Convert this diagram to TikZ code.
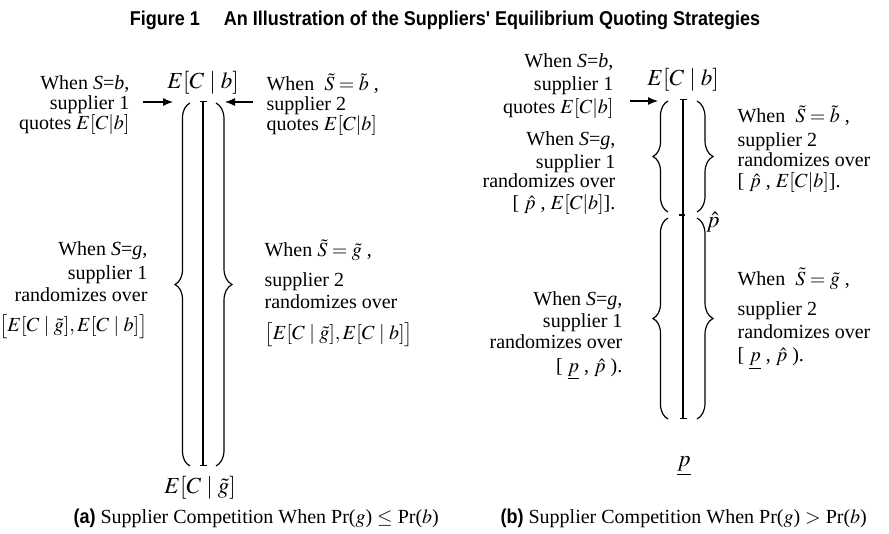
\documentclass[tikz,border=0pt]{standalone}
\usepackage{mathptmx}
\usepackage{fontspec}
\setmainfont{Liberation Serif}
\newfontfamily\titlefont[FakeStretch=0.9]{Liberation Sans}
\newfontfamily\capfont[FakeStretch=0.9]{Liberation Sans}
\usetikzlibrary{arrows.meta,decorations.pathreplacing}

\begin{document}
\begin{tikzpicture}[x=0.5pt,y=-0.5pt,>={Latex[length=5pt,width=4pt]},line width=0.6pt,every node/.style={inner sep=0pt},txtl/.style={align=right,anchor=base east,font=\fontsize{10}{11}\selectfont},txtr/.style={align=left,anchor=base west,font=\fontsize{10}{11}\selectfont},lbl/.style={font=\fontsize{11.5}{12}\selectfont},brc/.style={decorate,decoration={brace,amplitude=#1}},tk/.style={{Bar[width=3.5pt]}-{Bar[width=3.5pt]}}]
\useasboundingbox (0,0) rectangle (889,534);
\node (ttl) at (445,20) {\titlefont\bfseries\fontsize{10}{12}\selectfont Figure 1\hspace{1.2em}An Illustration of the Suppliers' Equilibrium Quoting Strategies};
% panel (a)
\node[lbl] (atop) at (203,83) {$E[C\mid b]$};
\node[lbl] (abot) at (200,488) {$E[C\mid\tilde g]$};
\coordinate (al1) at (203,101); \coordinate (al2) at (203,466);
\draw[tk] (al1) -- (al2);
\draw[brc=7.5pt] (190,466) -- (190,103);
\draw[brc=8pt] (216,103) -- (216,466);
\node[txtl] (aq1) at (130,130) {When \textit{S}=\textit{b},\\[-1pt] supplier 1\\[-1pt] quotes $E[C|b]$};
\node[txtr] (aq2) at (266,131) {When \ $\tilde S=\tilde b$ ,\\[-1pt] supplier 2\\[-1pt] quotes $E[C|b]$};
\coordinate (aa1) at (143,102); \coordinate (aa2) at (173,102);
\coordinate (aa3) at (253,102); \coordinate (aa4) at (225,102);
\draw[->] (aa1) -- (aa2); \draw[->] (aa3) -- (aa4);
\node[txtl] (ar1) at (148,332) {When \textit{S}=\textit{g},\\[1.5pt] supplier 1\\ randomizes over\\[4pt] $\bigl[E[C\mid\tilde g],E[C\mid b]\bigr]$};
\node[txtr] (ar2) at (264,340) {When $\tilde S=\tilde g$ ,\\[3.5pt] supplier 2\\ randomizes over\\[5pt] $\bigl[E[C\mid\tilde g],E[C\mid b]\bigr]$};
% panel (b)
\node[lbl] (btop) at (683,80) {$E[C\mid b]$};
\node[lbl] (bbot) at (684,466) {$\underline{p}$};
\node[lbl] (bhat) at (713,222) {$\hat p$};
\coordinate (bl1) at (683,99); \coordinate (bl2) at (683,419); \coordinate (bmid) at (683,215);
\draw[tk] (bl1) -- (bl2);
\draw ([xshift=-2pt]bmid) -- ([xshift=1pt]bmid);
\draw[brc=7.5pt] (668,212) -- (668,101);
\draw[brc=7.5pt] (668,419) -- (668,218);
\draw[brc=8pt] (697,101) -- (697,212);
\draw[brc=8pt] (697,218) -- (697,419);
\coordinate (ba1) at (630,101); \coordinate (ba2) at (658,101);
\draw[->] (ba1) -- (ba2);
\node[txtl] (bq1) at (614,114) {When \textit{S}=\textit{b},\\[0.5pt] supplier 1\\[0.5pt] quotes $E[C|b]$};
\node[txtl] (br1) at (616,210) {When \textit{S}=\textit{g},\\[0.5pt] supplier 1\\[-1.5pt] randomizes over\\[0pt] {[} $\hat p$ , $E[C|b]$].};
\node[txtl] (br1lo) at (623,372) {When \textit{S}=\textit{g},\\[0pt] supplier 1\\[-0.5pt] randomizes over\\[1pt] {[} $\underline{p}$ , $\hat p$ ).};
\node[txtr] (br2up) at (737,188) {When \ $\tilde S=\tilde b$ ,\\[1pt] supplier 2\\[-1pt] randomizes over\\[-0.5pt] {[} $\hat p$ , $E[C|b]$].};
\node[txtr] (br2lo) at (737,362) {When \ $\tilde S=\tilde g$ ,\\[4pt] supplier 2\\[0.5pt] randomizes over\\[1pt] {[} $\underline{p}$ , $\hat p$ ).};
% captions
\node[anchor=west] (capa) at (73,518) {{\capfont\bfseries(a)} Supplier Competition When Pr($g$) $\leq$ Pr($b$)};
\node[anchor=west] (capb) at (500,518) {{\capfont\bfseries(b)} Supplier Competition When Pr($g$) $>$ Pr($b$)};
\end{tikzpicture}
\end{document}
